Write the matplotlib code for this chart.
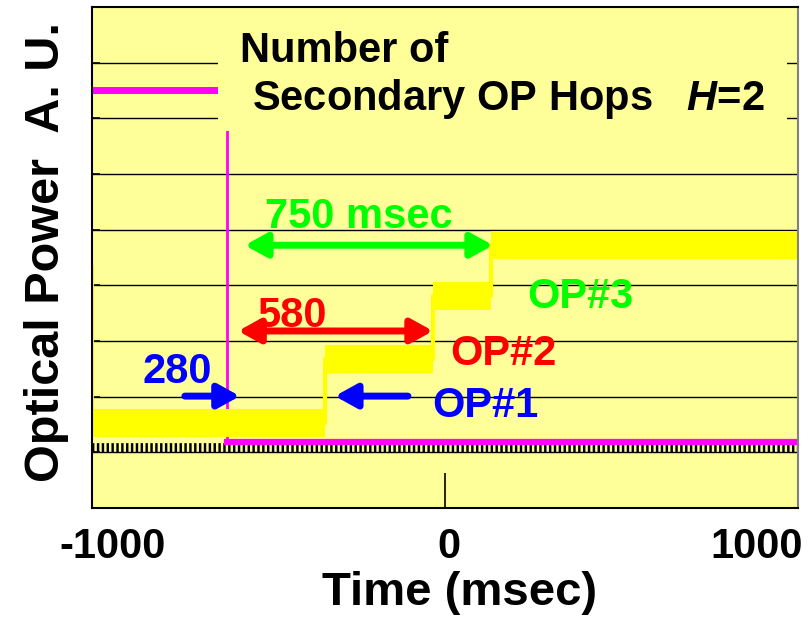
import numpy as np
import matplotlib.pyplot as plt
import matplotlib.transforms as mtransforms
from matplotlib.patches import Rectangle

plt.rcParams['font.family'] = ['Liberation Sans', 'DejaVu Sans']
plt.rcParams['font.weight'] = 'bold'
plt.rcParams['axes.labelweight'] = 'bold'
plt.rcParams['mathtext.fontset'] = 'custom'
plt.rcParams['mathtext.it'] = 'Liberation Sans:italic:bold'


# %%
# yellow trace: step times (msec) and levels (A.U.)
yellow_t = [-1000, -340, -34, 130, 1000]
yellow_lv = [1.52, 2.68, 3.81, 4.72]
yellow_start = 4.37
band = 0.25

# magenta trace: before / after the drop
magenta_t = [-1000, -617, 1000]
magenta_lv = [7.51, 1.19]

# black reference trace
black_lv = 1.08

# arrows: (tail, tip, level)
arrow_280 = (-737, -581, 2.01)
arrow_op1 = (-105, -312, 2.01)
arrow_580 = (-586, -34, 3.18)
arrow_750 = (-567, 136, 4.72)

xticks = [-1000, 0, 1000]
xticklabels = ['-1000', '0', '1000']

yel = '#FFFF00'
mag = '#FF00FF'
grn = '#00FF00'
red = '#FF0000'
blu = '#0000FF'


# %%
fig = plt.figure(figsize=(8.12, 6.19), dpi=100)
ax = fig.add_axes([0.1133, 0.1793, 0.8695, 0.8094])
ax.set_facecolor('#FFFF99')
ax.set_xlim(-1000, 1000)
ax.set_ylim(0, 9)

ax.set_axisbelow(True)
ax.grid(axis='y', color='black', lw=1)

# black comb-like trace
ax.plot([magenta_t[0], magenta_t[-1]], [black_lv, black_lv], color='black',
        lw=7, dashes=(0.25, 0.25), solid_capstyle='butt', zorder=2)

# magenta trace
ax.plot(magenta_t[:2], [magenta_lv[0]] * 2, color=mag, lw=5, zorder=3)
ax.plot(magenta_t[1:], [magenta_lv[1]] * 2, color=mag, lw=4.5, zorder=3)
ax.vlines(magenta_t[1], magenta_lv[1], magenta_lv[0], color=mag, lw=2, zorder=3)

# yellow trace as thick band
for i in range(len(yellow_lv)):
    ax.fill_between(yellow_t[i:i + 2], yellow_lv[i] - band, yellow_lv[i] + band,
                    color=yel, lw=0, zorder=4)
ax.step(yellow_t, yellow_lv + [yellow_lv[-1]], where='post', color=yel, lw=3, zorder=4)
ax.vlines(yellow_t[0], yellow_lv[0], yellow_start, color=yel, lw=3, zorder=4)


# %%
def arrow(a, color, style):
    tail, tip, y = a
    ax.annotate('', xy=(tip, y), xytext=(tail, y), zorder=5,
                arrowprops=dict(arrowstyle=style + ',head_length=0.65,head_width=0.36',
                                color=color, lw=5, mutation_scale=20,
                                shrinkA=0, shrinkB=0))

arrow(arrow_280, blu, '-|>')
arrow(arrow_op1, blu, '-|>')
arrow(arrow_580, red, '<|-|>')
arrow(arrow_750, grn, '<|-|>')

fs = 30
ax.text(-759, 2.245, '280', color=blu, fontsize=fs, ha='center', va='baseline', zorder=5)
ax.text(-433, 3.25, '580', color=red, fontsize=fs, ha='center', va='baseline', zorder=5)
ax.text(-244, 5.03, '750 msec', color=grn, fontsize=fs, ha='center', va='baseline', zorder=5)
ax.text(-37, 1.635, 'OP#1', color=blu, fontsize=fs, ha='left', va='baseline', zorder=5)
ax.text(14, 2.57, 'OP#2', color=red, fontsize=fs, ha='left', va='baseline', zorder=5)
ax.text(232, 3.59, 'OP#3', color=grn, fontsize=fs, ha='left', va='baseline', zorder=5)

# title box
ax.add_patch(Rectangle((-643, 6.77), 1612, 2.3, facecolor='#FFFF99', edgecolor='none', zorder=6))
ax.text(0.2096, 0.890, 'Number of', transform=ax.transAxes, fontsize=fs,
        ha='left', va='baseline', zorder=7)
ax.text(0.2266, 0.794, r'Secondary OP Hops   $\mathit{H}$=2', transform=ax.transAxes,
        fontsize=fs, ha='left', va='baseline', zorder=7)

for s in ax.spines.values():
    s.set_zorder(10)
    s.set_linewidth(1.5)
ax.spines['right'].set_color('#808080')

ax.set_xticks(xticks)
ax.set_xticklabels(xticklabels)
ax.set_yticks(range(1, 9))
ax.set_yticklabels([])
ax.tick_params(axis='x', direction='in', length=25, width=1.2, labelsize=30, pad=14)
ax.tick_params(axis='y', direction='in', length=6, width=1.2)

# end labels sit inside the axis span, as in the original
for lab, dx in zip(ax.get_xticklabels(), [21, 4, -41]):
    lab.set_transform(lab.get_transform() + mtransforms.ScaledTranslation(dx / 100, 0, fig.dpi_scale_trans))

ax.set_xlabel('Time (msec)', fontsize=34, va='center')
ax.xaxis.set_label_coords(0.52, -0.17)
ax.set_ylabel('Optical Power  A. U.', fontsize=35, va='center')
ax.yaxis.set_label_coords(-0.064, 0.51)

fig.savefig('out.png', dpi=100)
